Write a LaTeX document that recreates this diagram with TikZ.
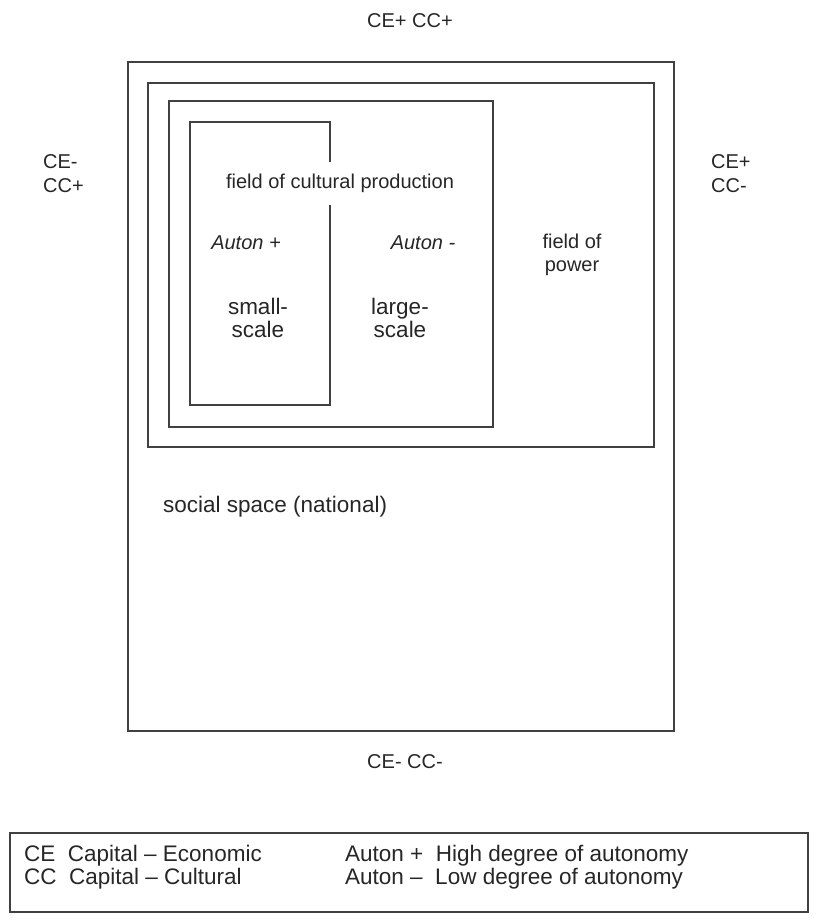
\documentclass[tikz,border=0pt]{standalone}
\usepackage{fontspec}
\setmainfont{Liberation Sans}
\begin{document}
\begin{tikzpicture}[x=1pt,y=-1pt,
  frame/.style={draw=black!75, line width=1.6pt},
  lbl/.style={font=\fontsize{20}{24}\selectfont, text=black!85, inner sep=0pt},
  big/.style={font=\fontsize{22.5}{23.5}\selectfont, text=black!85, inner sep=0pt, align=center},
  leg/.style={font=\fontsize{22.5}{24}\selectfont, text=black!85, inner sep=0pt, anchor=west}]
\useasboundingbox (0,0) rectangle (819,922);
% boxes
\draw[frame] (128,62) rectangle (674,731);
\draw[frame] (148,83) rectangle (654,447);
\draw[frame] (169,101) rectangle (493,427);
\draw[frame] (330,162) -- (330,122) -- (190,122) -- (190,405) -- (330,405) -- (330,205);
% labels
\node[lbl] (top) at (410,21) {CE+ CC+};
\node[lbl, align=left, anchor=west] (left) at (43,174) {CE-\\CC+};
\node[lbl, align=left, anchor=west] (right) at (711,174) {CE+\\CC-};
\node[lbl] (fcp) at (340,183) {field of cultural production};
\node[lbl, font=\fontsize{20}{24}\selectfont\itshape] (ap) at (246,243) {Auton +};
\node[lbl, font=\fontsize{20}{24}\selectfont\itshape] (am) at (423,243) {Auton -};
\node[lbl, align=center, font=\fontsize{20}{23}\selectfont] (fp) at (572,255) {field of\\power};
\node[big] (ss) at (258,318) {small-\\scale};
\node[big] (ls) at (400,318) {large-\\scale};
\node[big, anchor=west] (soc) at (163,507) {social space (national)};
\node[lbl] (bot) at (405,762) {CE- CC-};
% legend
\draw[frame] (10,833) rectangle (808,912);
\node[leg] (l1) at (24,856) {CE\ \ Capital -- Economic};
\node[leg] (l2) at (24,879) {CC\ \ Capital -- Cultural};
\node[leg] (l3) at (345,856) {Auton +\ \ High degree of autonomy};
\node[leg] (l4) at (345,879) {Auton --\ \ Low degree of autonomy};
\end{tikzpicture}
\end{document}
